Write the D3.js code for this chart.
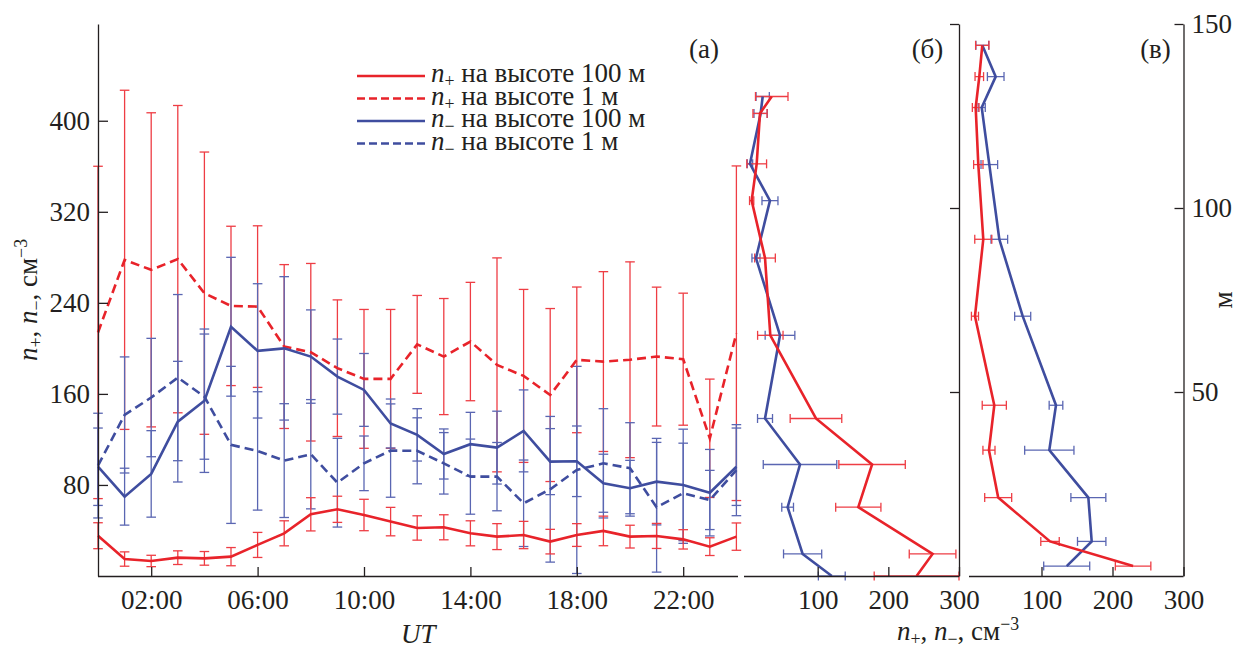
<!DOCTYPE html>
<html>
<head>
<meta charset="utf-8">
<script src="https://cdn.jsdelivr.net/npm/d3@7"></script>
<style>
  body { margin: 0; background: #fff; }
</style>
</head>
<body>
<svg id="chart" width="1240" height="650"></svg>
<script>
// ---- (а) diurnal course, UT hours ----
const hours = [0, 1, 2, 3, 4, 5, 6, 7, 8, 9, 10, 11, 12, 13, 14, 15, 16, 17, 18, 19, 20, 21, 22, 23, 24];
const hourTicks = [2, 6, 10, 14, 18, 22];
const densityTicks = [80, 160, 240, 320, 400];

const nPlus100 = [35.4, 14.9, 13.2, 16.1, 15.5, 17, 27.3, 37.5, 54.2, 58.6, 53.6, 47.8, 42.2, 42.8, 37.5, 34.6, 36, 30.2, 36, 39.6, 34.6, 35.2, 32.2, 25.8, 34.6];
const nPlus100Err = [11.4, 6.3, 5, 6, 6, 8, 11, 11, 14.6, 11.5, 13.8, 12.5, 10.7, 11, 11, 11.4, 12, 10.8, 10, 13, 10, 11, 8.5, 7.8, 12];
const nPlus1 = [214, 277.8, 269, 278.4, 248.5, 237.3, 236.7, 201.6, 196.6, 182.6, 173.2, 173.2, 203.5, 192.8, 206, 185.5, 175.8, 159, 189.9, 188.4, 190, 192.8, 190.5, 121, 213.3];
const nPlus1Err = [146, 149, 138, 135, 124, 70, 71, 72, 78, 60, 61, 61, 43, 51, 52, 94, 76, 76, 64, 79, 86, 61, 58, 52, 147];
const nMinus100 = [96, 69.7, 89.7, 135.6, 154, 219, 197.8, 200, 192.8, 175.2, 163.5, 134, 124, 107.2, 115.8, 112.8, 127.5, 100.5, 100.8, 81.5, 77.1, 82.9, 80, 73.2, 96];
const nMinus100Err = [34, 25, 38, 53, 63, 61, 59, 63, 41, 33, 32, 21.5, 23, 22, 28, 32, 36, 29, 31, 25.5, 24.5, 38, 49, 38, 34];
const nMinus1 = [97, 141.5, 156.8, 174.3, 157.6, 115.2, 109.9, 101.4, 107, 82, 99, 110.2, 110, 99, 87.3, 87.3, 63.9, 76.2, 93.2, 99, 94.7, 60.4, 72.7, 66.8, 93];
const nMinus1Err = [46, 51, 52, 73, 55, 69, 52, 50, 48, 39, 24, 41, 29, 27, 33, 30, 38, 64, 91, 48, 40, 57, 44, 26, 40];

// ---- (б) vertical profile ----
const heightsB = [130.3, 125.7, 112, 102, 86.4, 65.4, 42.8, 30.3, 18.7, 6, 0];
const plusB = [35, 18.4, 13.7, 6.6, 25.5, 33, 97.6, 177, 157.5, 262.6, 240];
const plusBErr = [23, 10, 14, 3, 14.6, 18, 36.5, 47, 32, 33, 60];
const minusB = [22.2, 19.3, 4.2, 32.5, 12.7, 46.7, 25.5, 75, 57.5, 78.7, 120];
const minusBErr = [9.4, 9.4, 3.8, 11.3, 5.7, 21, 10.6, 52, 8.3, 27, 19];

// ---- (в) vertical profile ----
const heightsC = [144.2, 135.7, 127.3, 111.8, 91.5, 70.6, 46.4, 34.2, 21.3, 9.4, 2.7];
const plusC = [16.6, 12.4, 7.3, 11, 18, 6.3, 33.5, 26, 39, 112, 229];
const plusCErr = [9.4, 6, 4.7, 6.6, 12, 5, 17, 8.5, 19, 13, 25];
const minusC = [16.6, 35.5, 15.8, 26.5, 40.6, 73.5, 120.4, 111, 166, 170.7, 135.5];
const minusCErr = [9, 11.7, 5, 11.7, 11.7, 11.3, 9.6, 34.7, 24.6, 20, 32.4];

const profileTicks = [100, 200, 300];
const heightTicks = [50, 100, 150];

const RED = "#e8232a", BLUE = "#3f4d9f";
const RED_ERR = "#ee3d44", BLUE_ERR = "#5a66b2";
const INK = "#231f20";
const FONT = '"Liberation Serif", "Times New Roman", serif';
const FS = 27;

const svg = d3.select("#chart");

function txt(parent, size) {
  return parent.append("text").style("font-family", FONT).attr("font-size", size).attr("fill", INK);
}

// rich text helper: italics, sub- and superscripts
function rich(sel, parts, size) {
  let shift = 0;
  parts.forEach(p => {
    const ts = sel.append("tspan").text(p.t);
    let target = 0;
    if (p.sub) target = size * 0.2;
    if (p.sup) target = -size * 0.38;
    ts.attr("dy", target - shift);
    shift = target;
    if (p.i) ts.attr("font-style", "italic");
    if (p.sub || p.sup) ts.attr("font-size", size * 0.66);
  });
}

function styleAxis(g) {
  g.attr("font-family", null);
  g.selectAll("path.domain").attr("stroke", INK).attr("stroke-width", 1.3);
  g.selectAll(".tick line").attr("stroke", INK).attr("stroke-width", 1.3);
  g.selectAll(".tick text").attr("font-size", FS).attr("fill", INK).style("font-family", FONT);
}

// ================= panel (а) =================
const xA = d3.scaleLinear().domain([0, 24]).range([98, 736.4]);
const yA = d3.scaleLinear().domain([0, 485]).range([576, 24]);

const gA = svg.append("g");

// vertical error bars
function vErrors(g, xs, vals, errs, color, capHalf) {
  const grp = g.append("g").attr("stroke", color).attr("stroke-width", 1.3).attr("fill", "none");
  xs.forEach((h, i) => {
    const x = xA(h);
    const lo = Math.max(0, vals[i] - errs[i]);
    const hi = vals[i] + errs[i];
    grp.append("line").attr("x1", x).attr("x2", x).attr("y1", yA(lo)).attr("y2", yA(hi));
    [lo, hi].forEach(v => grp.append("line")
      .attr("x1", x - capHalf).attr("x2", x + capHalf)
      .attr("y1", yA(v)).attr("y2", yA(v)));
  });
}
vErrors(gA, hours, nPlus1, nPlus1Err, RED_ERR, 4.8);
vErrors(gA, hours, nMinus1, nMinus1Err, BLUE_ERR, 4.8);
vErrors(gA, hours, nMinus100, nMinus100Err, BLUE_ERR, 4.8);
vErrors(gA, hours, nPlus100, nPlus100Err, RED_ERR, 4.8);

const lineA = vals => d3.line().x((d, i) => xA(hours[i])).y(d => yA(d))(vals);
const seriesA = [
  { v: nPlus1, c: RED, dash: "9,5" },
  { v: nMinus1, c: BLUE, dash: "9,5" },
  { v: nMinus100, c: BLUE, dash: null },
  { v: nPlus100, c: RED, dash: null }
];
seriesA.forEach(s => {
  gA.append("path").attr("d", lineA(s.v)).attr("fill", "none")
    .attr("stroke", s.c).attr("stroke-width", 2.6)
    .attr("stroke-dasharray", s.dash);
});

// axes (а)
const axLeftA = gA.append("g").attr("transform", "translate(98,0)")
  .call(d3.axisLeft(yA).tickValues(densityTicks).tickSizeInner(-10).tickSizeOuter(0).tickPadding(8));
styleAxis(axLeftA);
const axBotA = gA.append("g").attr("transform", "translate(0,576)")
  .call(d3.axisBottom(xA).tickValues(hourTicks).tickSizeInner(-9).tickSizeOuter(0).tickPadding(14)
    .tickFormat(h => d3.format("02d")(h) + ":00"));
styleAxis(axBotA);
axBotA.select("path.domain").attr("d", "M98,0.5H738");

// axis titles (а)
txt(svg, FS).attr("x", 401).attr("y", 643).attr("font-style", "italic").text("UT");
const yTitle = txt(svg, FS).attr("text-anchor", "middle")
  .attr("transform", "translate(37,300) rotate(-90)");
rich(yTitle, [{ t: "n", i: true }, { t: "+", sub: true }, { t: ", " }, { t: "n", i: true }, { t: "−", sub: true }, { t: ", см" }, { t: "−3", sup: true }], FS);

txt(svg, FS).attr("x", 704).attr("y", 58).attr("text-anchor", "middle").text("(а)");

// legend
const legend = svg.append("g");
const legendRows = [
  { c: RED, dash: null, sub: "+", label: " на высоте 100 м" },
  { c: RED, dash: "8,4", sub: "+", label: " на высоте 1 м" },
  { c: BLUE, dash: null, sub: "−", label: " на высоте 100 м" },
  { c: BLUE, dash: "8,4", sub: "−", label: " на высоте 1 м" }
];
const LFS = 27;
legendRows.forEach((r, i) => {
  const y = 76 + i * 22.5;
  legend.append("line").attr("x1", 357).attr("x2", 425).attr("y1", y).attr("y2", y)
    .attr("stroke", r.c).attr("stroke-width", 2.6).attr("stroke-dasharray", r.dash);
  const t = txt(legend, LFS).attr("x", 431).attr("y", y + 6);
  rich(t, [{ t: "n", i: true }, { t: r.sub, sub: true }, { t: r.label }], LFS);
});

// ================= profiles (б) and (в) =================
function profile(xRange, heights, plus, plusErr, minus, minusErr) {
  const x = d3.scaleLinear().domain([0, 300]).range(xRange);
  const y = d3.scaleLinear().domain([0, 150]).range([576, 24]);
  const g = svg.append("g");
  [[minus, minusErr, BLUE_ERR], [plus, plusErr, RED_ERR]].forEach(([v, e, c]) => {
    const grp = g.append("g").attr("stroke", c).attr("stroke-width", 1.3);
    heights.forEach((h, i) => {
      const yy = y(h);
      const a = x(v[i] - e[i]), b = x(v[i] + e[i]);
      grp.append("line").attr("x1", a).attr("x2", b).attr("y1", yy).attr("y2", yy);
      [a, b].forEach(xx => grp.append("line").attr("x1", xx).attr("x2", xx)
        .attr("y1", yy - 4.5).attr("y2", yy + 4.5));
    });
  });
  [[minus, BLUE], [plus, RED]].forEach(([v, c]) => {
    g.append("path")
      .attr("d", d3.line().x(d => x(d)).y((d, i) => y(heights[i]))(v))
      .attr("fill", "none").attr("stroke", c).attr("stroke-width", 2.6);
  });
  return { x, y, g };
}

// (б)
const pB = profile([747, 959], heightsB, plusB, plusBErr, minusB, minusBErr);
const axBotB = pB.g.append("g").attr("transform", "translate(0,576)")
  .call(d3.axisBottom(pB.x).tickValues(profileTicks).tickSizeInner(-9).tickSizeOuter(0).tickPadding(14));
styleAxis(axBotB);
axBotB.select("path.domain").attr("d", "M744,0.5H959");
const axRightB = pB.g.append("g").attr("transform", "translate(959,0)")
  .call(d3.axisRight(pB.y).tickValues(heightTicks).tickSizeInner(-9).tickSizeOuter(0).tickFormat(""));
styleAxis(axRightB);
txt(svg, FS).attr("x", 927.5).attr("y", 58).attr("text-anchor", "middle").text("(б)");

// (в)
const pC = profile([970.5, 1183.5], heightsC, plusC, plusCErr, minusC, minusCErr);
const axBotC = pC.g.append("g").attr("transform", "translate(0,576)")
  .call(d3.axisBottom(pC.x).tickValues(profileTicks).tickSizeInner(-9).tickSizeOuter(0).tickPadding(14));
styleAxis(axBotC);
axBotC.select("path.domain").attr("d", "M969,0.5H1183.5");
const axRightC = pC.g.append("g").attr("transform", "translate(1183.5,0)")
  .call(d3.axisRight(pC.y).tickValues(heightTicks).tickSizeInner(-9).tickSizeOuter(0).tickPadding(8));
styleAxis(axRightC);
txt(svg, FS).attr("x", 1155.5).attr("y", 58).attr("text-anchor", "middle").text("(в)");

// shared titles of the profiles
const xTitle = txt(svg, FS).attr("x", 897).attr("y", 640);
rich(xTitle, [{ t: "n", i: true }, { t: "+", sub: true }, { t: ", " }, { t: "n", i: true }, { t: "−", sub: true }, { t: ", см" }, { t: "−3", sup: true }], FS);
txt(svg, FS).attr("text-anchor", "middle")
  .attr("transform", "translate(1232,300) rotate(-90)").text("м");
</script>
</body>
</html>
